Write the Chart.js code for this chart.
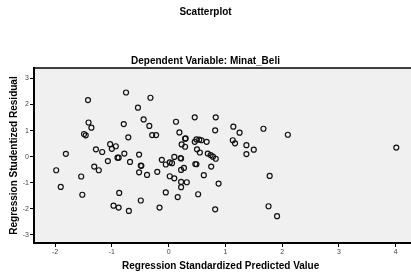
<!DOCTYPE html>
<html>
<head>
<meta charset="utf-8">
<script src="https://cdn.jsdelivr.net/npm/chart.js@4"></script>
<style>
  body { margin: 0; background: #fff; }
  #plot { display: block; }
</style>
</head>
<body>
<canvas id="plot" width="411" height="275"></canvas>
<script>
// Regression Standardized Predicted Value
const predicted = [
  -1.42, -0.75, -0.32, -0.54, -0.44, -0.79, -0.34, 0.13, 0.46, 0.83,
  -1.41, -1.36, 0.19, 0.82, 1.14, 1.25, 1.67, -1.49, -1.46, -0.71,
  -0.29, -0.22, 0.29, 0.30, 0.49, 0.54, 0.58, 0.67, 0.46, 1.13,
  1.17, 2.10, 4.01, 1.37, 1.50, 1.37, -1.03, -0.93, -1.00, -1.28,
  -1.17, -1.81, -0.78, -0.52, -0.90, -0.88, -0.68, -1.07, -0.49, -0.48,
  -1.31, -1.23, -1.98, -0.52, -0.38, -0.20, -1.54, -1.90, -1.52, -0.87,
  -0.97, -0.88, -0.70, -0.49, -0.16, -0.12, -0.05, 0.02, 0.06, 0.10,
  0.21, 0.22, 0.23, 0.29, 0.22, 0.27, 0.47, 0.49, 0.50, 0.55,
  0.69, 0.74, 0.78, 0.83, 0.75, 0.62, 0.88, 0.52, 0.82, 0.02,
  0.10, 0.22, 0.32, 0.22, -0.05, 0.16, 1.78, 1.76, 1.91
];
// Regression Studentized Residual
const residual = [
  2.17, 2.46, 2.26, 1.88, 1.43, 1.25, 1.18, 1.34, 1.51, 1.51,
  1.31, 1.11, 0.93, 1.01, 1.15, 0.92, 1.07, 0.87, 0.82, 0.74,
  0.83, 0.83, 0.69, 0.70, 0.66, 0.65, 0.63, 0.57, 0.57, 0.63,
  0.51, 0.84, 0.35, 0.44, 0.27, 0.10, 0.48, 0.40, 0.30, 0.28,
  0.18, 0.11, 0.12, 0.08, -0.04, -0.04, -0.20, -0.17, -0.34, -0.35,
  -0.38, -0.52, -0.52, -0.60, -0.70, -0.58, -0.76, -1.16, -1.46, -1.39,
  -1.88, -1.95, -2.08, -1.68, -1.95, -0.12, -0.30, -0.22, -0.25, -0.01,
  -0.05, -0.07, 0.47, 0.38, -0.51, -0.43, -0.28, -0.29, 0.28, 0.16,
  0.12, 0.06, 0.00, -0.08, -0.38, -0.71, -1.03, -1.44, -2.02, -0.75,
  -0.83, -0.97, -0.98, -1.17, -1.37, -1.55, -0.74, -1.90, -2.28
];

const xTicks = [-2, -1, 0, 1, 2, 3, 4];
const yTicks = [-3, -2, -1, 0, 1, 2, 3];

const points = predicted.map((x, i) => ({ x: x, y: residual[i] }));

const fontFamily = "Arial, 'Liberation Sans', sans-serif";

// grey plot background that runs on to the right edge, plus the top frame line
const plotFrame = {
  id: "plotFrame",
  beforeDraw(chart) {
    const a = chart.chartArea;
    const ctx = chart.ctx;
    ctx.save();
    ctx.fillStyle = "#f0f0f0";
    ctx.fillRect(a.left, a.top, chart.width - a.left, a.bottom - a.top);
    ctx.restore();
  },
  afterDraw(chart) {
    const a = chart.chartArea;
    const ctx = chart.ctx;
    ctx.save();
    ctx.strokeStyle = "#000";
    ctx.lineWidth = 1.5;
    ctx.beginPath();
    ctx.moveTo(a.left, a.top);
    ctx.lineTo(chart.width, a.top);
    ctx.stroke();
    ctx.beginPath();
    ctx.lineWidth = 2;
    ctx.moveTo(a.right, a.bottom);
    ctx.lineTo(chart.width, a.bottom);
    ctx.stroke();
    ctx.restore();
  }
};

new Chart(document.getElementById("plot"), {
  type: "scatter",
  data: {
    datasets: [{
      label: "Residual",
      data: points,
      pointStyle: "circle",
      pointRadius: 2.5,
      pointHoverRadius: 2.5,
      pointBorderWidth: 1.2,
      pointBorderColor: "#111",
      pointBackgroundColor: "rgba(0,0,0,0)"
    }]
  },
  options: {
    responsive: false,
    animation: false,
    plugins: {
      legend: { display: false },
      tooltip: { enabled: false },
      title: {
        display: true,
        text: "Scatterplot",
        color: "#000",
        font: { family: fontFamily, size: 10, weight: "bold", lineHeight: 1.2 },
        padding: { top: 6, bottom: 37 }
      },
      subtitle: {
        display: true,
        text: "Dependent Variable: Minat_Beli",
        color: "#000",
        font: { family: fontFamily, size: 10, weight: "bold", lineHeight: 1.2 },
        padding: { top: 0, bottom: 1 }
      }
    },
    scales: {
      x: {
        type: "linear",
        min: -2.371,
        max: 4.204,
        afterBuildTicks: (scale) => { scale.ticks = xTicks.map(v => ({ value: v })); },
        afterFit: (scale) => { scale.height = 32; },
        border: { display: true, color: "#000", width: 2 },
        grid: { drawOnChartArea: false, drawTicks: true, tickLength: 4, color: "#000", tickWidth: 1 },
        ticks: { color: "#444", padding: 1, maxRotation: 0, font: { family: fontFamily, size: 7 } },
        title: {
          display: true,
          text: "Regression Standardized Predicted Value",
          color: "#000",
          font: { family: fontFamily, size: 10, weight: "bold", lineHeight: 1.2 },
          padding: { top: 0, bottom: 2.3 }
        }
      },
      y: {
        type: "linear",
        min: -3.31,
        max: 3.40,
        afterBuildTicks: (scale) => { scale.ticks = yTicks.map(v => ({ value: v })); },
        afterFit: (scale) => { scale.width = 34; },
        border: { display: true, color: "#000", width: 2 },
        grid: { drawOnChartArea: false, drawTicks: true, tickLength: 4, color: "#000", tickWidth: 1 },
        ticks: { color: "#444", padding: 1, font: { family: fontFamily, size: 7 } },
        title: {
          display: true,
          text: "Regression Studentized Residual",
          color: "#000",
          font: { family: fontFamily, size: 10, weight: "bold", lineHeight: 1.2 },
          padding: { top: 8.5, bottom: 0 }
        }
      }
    }
  },
  plugins: [plotFrame]
});
</script>
</body>
</html>
